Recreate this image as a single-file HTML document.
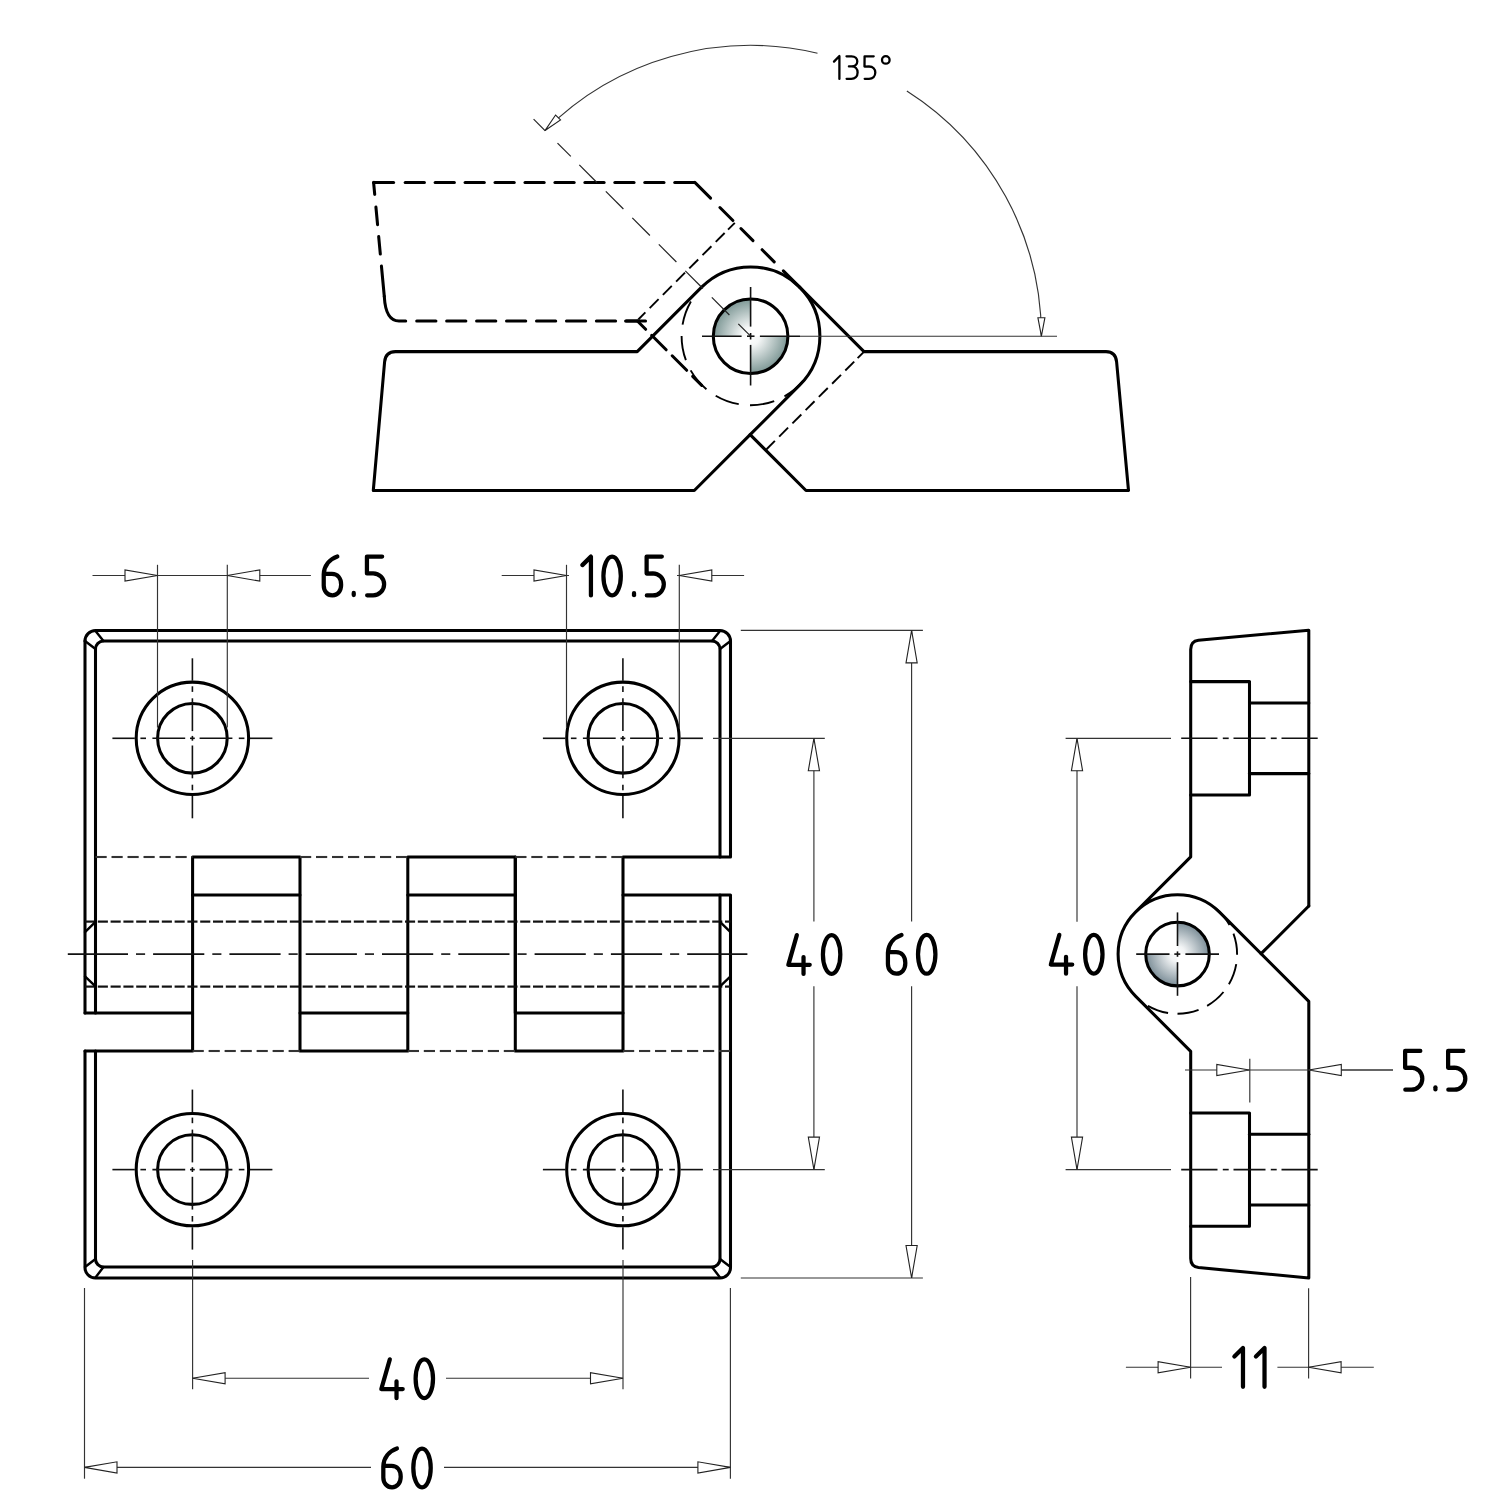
<!DOCTYPE html>
<html><head><meta charset="utf-8"><title>Hinge drawing</title>
<style>
html,body{margin:0;padding:0;background:#fff;width:1500px;height:1500px;overflow:hidden;font-family:"Liberation Sans",sans-serif}
svg{display:block}
.k{fill:none;stroke:#000;stroke-width:3.05;stroke-linecap:round;stroke-linejoin:round}
.k2{fill:none;stroke:#000;stroke-width:2.4;stroke-linecap:round}
.kd{fill:none;stroke:#000;stroke-width:3.05;stroke-linecap:round}
.md{fill:none;stroke:#000;stroke-width:1.9;stroke-linecap:butt}
.h{fill:none;stroke:#333;stroke-width:2.1}
.h2{fill:none;stroke:#111;stroke-width:2.2}
.c{fill:none;stroke:#111;stroke-width:1.6}
.c1{fill:none;stroke:#222;stroke-width:1.2}
.t{fill:none;stroke:#333;stroke-width:1.15}
.ar{fill:#fff;stroke:#222;stroke-width:1.1;stroke-linejoin:miter}
.tx{fill:none;stroke:#000;stroke-width:4.25;stroke-linecap:round;stroke-linejoin:round}
.ts path,.ts circle{fill:none;stroke:#000;stroke-width:2.3;stroke-linecap:round;stroke-linejoin:round}
</style></head>
<body>
<svg width="1500" height="1500" viewBox="0 0 1500 1500">
<defs>
<radialGradient id="g1" cx="750.6" cy="336.2" r="37.3" gradientUnits="userSpaceOnUse">
<stop offset="0" stop-color="#ffffff"/><stop offset="0.25" stop-color="#f4f6f6"/><stop offset="1" stop-color="#7d9795"/>
</radialGradient>
<radialGradient id="g2" cx="1177.5" cy="954.1" r="31.8" gradientUnits="userSpaceOnUse">
<stop offset="0" stop-color="#ffffff"/><stop offset="0.25" stop-color="#f2f4f5"/><stop offset="1" stop-color="#7b8d97"/>
</radialGradient>
</defs>
<rect width="1500" height="1500" fill="#fff"/>
<path d="M373.3,490.5 L384.6,361.8 Q385.6,351.6 395.5,351.6 L637.2,351.6 L701.6,287.2 A69.3,69.3 0 0 1 799.6,287.2 L864,351.6 L1106,351.6 Q1115.6,351.6 1116.6,361.8 L1128.5,490.5 L806,490.5 L750.15,434.65 L694.3,490.5 Z" class="k"/>
<path d="M799.6,287.2 A69.3,69.3 0 0 1 799.6,385.2 L750.15,434.65" class="k"/>
<line x1="373.6" y1="182.4" x2="393.6" y2="182.4" class="kd"/>
<line x1="405.2" y1="182.4" x2="424.4" y2="182.4" class="kd"/>
<line x1="435.15" y1="182.4" x2="454.35" y2="182.4" class="kd"/>
<line x1="465.1" y1="182.4" x2="484.3" y2="182.4" class="kd"/>
<line x1="495.05" y1="182.4" x2="514.25" y2="182.4" class="kd"/>
<line x1="525" y1="182.4" x2="544.2" y2="182.4" class="kd"/>
<line x1="554.95" y1="182.4" x2="574.15" y2="182.4" class="kd"/>
<line x1="584.9" y1="182.4" x2="604.1" y2="182.4" class="kd"/>
<line x1="614.85" y1="182.4" x2="634.05" y2="182.4" class="kd"/>
<line x1="644.8" y1="182.4" x2="664" y2="182.4" class="kd"/>
<line x1="674.75" y1="182.4" x2="693.95" y2="182.4" class="kd"/>
<line x1="694.8" y1="182.4" x2="710.57" y2="198.17" class="kd"/>
<line x1="719.91" y1="207.5" x2="732.92" y2="220.51" class="kd"/>
<line x1="740.91" y1="228.5" x2="753" y2="240.59" class="kd"/>
<line x1="762.12" y1="249.72" x2="774.21" y2="261.81" class="kd"/>
<line x1="783.33" y1="270.93" x2="799.6" y2="287.2" class="kd"/>
<line x1="373.6" y1="182.4" x2="374.72" y2="194.35" class="kd"/>
<line x1="375.92" y1="207.09" x2="377.56" y2="224.61" class="kd"/>
<line x1="378.68" y1="236.56" x2="380.32" y2="254.09" class="kd"/>
<line x1="381.44" y1="266.03" x2="384.3" y2="296.5" class="kd"/>
<path d="M384.3,296.5 Q385.6,321 399,321 L405.7,321" class="k"/>
<line x1="416.7" y1="321" x2="435.9" y2="321" class="kd"/>
<line x1="446.65" y1="321" x2="465.85" y2="321" class="kd"/>
<line x1="476.6" y1="321" x2="495.8" y2="321" class="kd"/>
<line x1="506.55" y1="321" x2="525.75" y2="321" class="kd"/>
<line x1="536.5" y1="321" x2="555.7" y2="321" class="kd"/>
<line x1="566.45" y1="321" x2="585.65" y2="321" class="kd"/>
<line x1="596.4" y1="321" x2="615.6" y2="321" class="kd"/>
<line x1="626.35" y1="321" x2="645.55" y2="321" class="kd"/>
<line x1="625.6" y1="321" x2="637.4" y2="321" class="kd"/>
<line x1="637.4" y1="321" x2="645.67" y2="329.27" class="kd"/>
<line x1="651.68" y1="335.28" x2="666.17" y2="349.78" class="kd"/>
<line x1="672.18" y1="355.79" x2="686.68" y2="370.29" class="kd"/>
<line x1="692.69" y1="376.3" x2="701.74" y2="385.35" class="kd"/>
<path d="M690.9,301.6 A69,69 0 0 0 682.57,324.69" class="md"/>
<path d="M681.6,335.96 A69,69 0 0 0 685.89,360.14" class="md"/>
<path d="M690.66,370.39 A69,69 0 0 0 706.43,389.21" class="md"/>
<path d="M715.68,395.71 A69,69 0 0 0 738.74,404.17" class="md"/>
<path d="M750,405.2 A69,69 0 0 0 774.2,401.04" class="md"/>
<path d="M784.47,396.31 A69,69 0 0 0 803.38,380.64" class="md"/>
<line x1="734.8" y1="222.8" x2="728.02" y2="229.6" class="md"/>
<line x1="724.63" y1="232.99" x2="715.73" y2="241.91" class="md"/>
<line x1="711.42" y1="246.23" x2="702.52" y2="255.15" class="md"/>
<line x1="698.21" y1="259.47" x2="689.31" y2="268.38" class="md"/>
<line x1="685" y1="272.7" x2="676.1" y2="281.62" class="md"/>
<line x1="671.79" y1="285.94" x2="662.89" y2="294.86" class="md"/>
<line x1="658.58" y1="299.18" x2="649.68" y2="308.09" class="md"/>
<line x1="645.37" y1="312.41" x2="638.31" y2="319.49" class="md"/>
<line x1="864.4" y1="351.4" x2="857.61" y2="358.19" class="md"/>
<line x1="854.22" y1="361.58" x2="845.31" y2="370.49" class="md"/>
<line x1="840.99" y1="374.81" x2="832.09" y2="383.71" class="md"/>
<line x1="827.77" y1="388.03" x2="818.86" y2="396.94" class="md"/>
<line x1="814.55" y1="401.25" x2="805.64" y2="410.16" class="md"/>
<line x1="801.33" y1="414.47" x2="792.42" y2="423.38" class="md"/>
<line x1="788.1" y1="427.7" x2="779.19" y2="436.61" class="md"/>
<line x1="774.88" y1="440.92" x2="766.54" y2="449.26" class="md"/>
<path d="M750.6,336.2 L713.3,336.2 A37.3,37.3 0 0 1 750.6,298.9 Z" fill="url(#g1)" stroke="none"/>
<path d="M750.6,336.2 L787.9,336.2 A37.3,37.3 0 0 1 750.6,373.5 Z" fill="url(#g1)" stroke="none"/>
<circle cx="750.6" cy="336.2" r="37.3" class="k"/>
<line x1="702" y1="336.2" x2="741.6" y2="336.2" class="c"/>
<line x1="747" y1="336.2" x2="754.5" y2="336.2" class="c"/>
<line x1="759.9" y1="336.2" x2="800" y2="336.2" class="c"/>
<line x1="750.6" y1="287" x2="750.6" y2="326.6" class="c"/>
<line x1="750.6" y1="333" x2="750.6" y2="339.5" class="c"/>
<line x1="750.6" y1="344.9" x2="750.6" y2="385.5" class="c"/>
<line x1="800" y1="336.2" x2="1057" y2="336.2" class="t"/>
<line x1="533.6" y1="119.2" x2="545.3" y2="130.9" class="c1"/>
<line x1="557.5" y1="143.1" x2="570.8" y2="156.4" class="c1"/>
<line x1="579.3" y1="164.9" x2="596.9" y2="182.5" class="c1"/>
<line x1="605.8" y1="191.4" x2="623.4" y2="209" class="c1"/>
<line x1="632.3" y1="217.9" x2="649.9" y2="235.5" class="c1"/>
<line x1="658.8" y1="244.4" x2="676.4" y2="262" class="c1"/>
<line x1="685.3" y1="270.9" x2="702.9" y2="288.5" class="c1"/>
<line x1="711.8" y1="297.4" x2="729.4" y2="315" class="c1"/>
<line x1="738.3" y1="323.9" x2="750.6" y2="336.2" class="c1"/>
<path d="M544.97,130.57 A290.8,290.8 0 0 1 817.5,53.2" class="t"/>
<path d="M906.85,90.94 A290.8,290.8 0 0 1 1041.4,336.2" class="t"/>
<polygon points="544.97,130.57 555.58,115.02 560.53,119.97" class="ar"/>
<polygon points="1041.4,336.2 1037.9,317.7 1044.9,317.7" class="ar"/>
<g class="ts">
<path d="M834,61.6 L839.4,56 L839.4,78.9"/>
<path d="M846.5,56.3 L851.6,56.3 C855.2,56.3 857.3,58.6 857.3,61.3 C857.3,64.2 855.2,66.4 851.6,66.4 L848.9,66.4 M851.6,66.4 C855.2,66.4 857.6,68.8 857.6,72.6 C857.6,76.5 855,78.8 851.3,78.8 L846.6,78.8"/>
<path d="M873.7,56.3 L864.6,56.3 L864.5,66.6 L869,66.5 C873,66.5 875.3,69.2 875.3,72.6 C875.3,76.3 872.8,78.8 869,78.8 L864.7,78.8"/>
<circle cx="885.8" cy="59.9" r="3.8"/>
</g>
<path d="M85,641 A10.5,10.5 0 0 1 95.5,630.5 L720,630.5 A10.5,10.5 0 0 1 730.5,641 L730.5,857 L623,857 L623,1051 L515.3,1051 L515.3,857 " class="k"/>
<path d="M85,1013 L85,641" class="k"/>
<path d="M95.5,1013 L95.5,649 A8,8 0 0 1 103.5,641 L712,641 A8,8 0 0 1 720,649 L720,857" class="k"/>
<line x1="95.5" y1="631" x2="103.5" y2="641" class="k2"/>
<line x1="85" y1="641" x2="95.5" y2="649" class="k2"/>
<line x1="720" y1="631" x2="712" y2="641" class="k2"/>
<line x1="730.5" y1="641" x2="720" y2="649" class="k2"/>
<path d="M85,1051 L85,1267 A10.5,10.5 0 0 0 95.5,1278 L720,1278 A10.5,10.5 0 0 0 730.5,1267 L730.5,895 L623,895" class="k"/>
<path d="M95.5,1051 L95.5,1259 A8,8 0 0 0 103.5,1267 L712,1267 A8,8 0 0 0 720,1259 L720,895" class="k"/>
<line x1="85" y1="1267" x2="95.5" y2="1259" class="k2"/>
<line x1="95.5" y1="1277.5" x2="103.5" y2="1267" class="k2"/>
<line x1="730.5" y1="1267" x2="720" y2="1259" class="k2"/>
<line x1="720" y1="1277.5" x2="712" y2="1267" class="k2"/>
<path d="M85,1013 L192.6,1013 L192.6,857 L300,857 L300,1013 L407.8,1013 L407.8,857 L515.3,857 L515.3,1013 L623,1013" class="k"/>
<path d="M85,1051 L192.6,1051 L192.6,1013" class="k"/>
<path d="M300,1013 L300,1051 L407.8,1051 L407.8,1013" class="k"/>
<line x1="192.6" y1="895" x2="300" y2="895" class="k"/>
<line x1="407.8" y1="895" x2="515.3" y2="895" class="k"/>
<line x1="95.5" y1="857" x2="106.7" y2="857" class="h"/>
<line x1="111.5" y1="857" x2="122.7" y2="857" class="h"/>
<line x1="127.5" y1="857" x2="138.7" y2="857" class="h"/>
<line x1="143.5" y1="857" x2="154.7" y2="857" class="h"/>
<line x1="159.5" y1="857" x2="170.7" y2="857" class="h"/>
<line x1="175.5" y1="857" x2="186.7" y2="857" class="h"/>
<line x1="191.5" y1="857" x2="192.6" y2="857" class="h"/>
<line x1="300" y1="857" x2="311.2" y2="857" class="h"/>
<line x1="316" y1="857" x2="327.2" y2="857" class="h"/>
<line x1="332" y1="857" x2="343.2" y2="857" class="h"/>
<line x1="348" y1="857" x2="359.2" y2="857" class="h"/>
<line x1="364" y1="857" x2="375.2" y2="857" class="h"/>
<line x1="380" y1="857" x2="391.2" y2="857" class="h"/>
<line x1="396" y1="857" x2="407.2" y2="857" class="h"/>
<line x1="515.3" y1="857" x2="526.5" y2="857" class="h"/>
<line x1="531.3" y1="857" x2="542.5" y2="857" class="h"/>
<line x1="547.3" y1="857" x2="558.5" y2="857" class="h"/>
<line x1="563.3" y1="857" x2="574.5" y2="857" class="h"/>
<line x1="579.3" y1="857" x2="590.5" y2="857" class="h"/>
<line x1="595.3" y1="857" x2="606.5" y2="857" class="h"/>
<line x1="611.3" y1="857" x2="622.5" y2="857" class="h"/>
<line x1="192.6" y1="1051" x2="203.8" y2="1051" class="h"/>
<line x1="208.6" y1="1051" x2="219.8" y2="1051" class="h"/>
<line x1="224.6" y1="1051" x2="235.8" y2="1051" class="h"/>
<line x1="240.6" y1="1051" x2="251.8" y2="1051" class="h"/>
<line x1="256.6" y1="1051" x2="267.8" y2="1051" class="h"/>
<line x1="272.6" y1="1051" x2="283.8" y2="1051" class="h"/>
<line x1="288.6" y1="1051" x2="299.8" y2="1051" class="h"/>
<line x1="407.8" y1="1051" x2="419" y2="1051" class="h"/>
<line x1="423.8" y1="1051" x2="435" y2="1051" class="h"/>
<line x1="439.8" y1="1051" x2="451" y2="1051" class="h"/>
<line x1="455.8" y1="1051" x2="467" y2="1051" class="h"/>
<line x1="471.8" y1="1051" x2="483" y2="1051" class="h"/>
<line x1="487.8" y1="1051" x2="499" y2="1051" class="h"/>
<line x1="503.8" y1="1051" x2="515" y2="1051" class="h"/>
<line x1="623" y1="1051" x2="634.2" y2="1051" class="h"/>
<line x1="639" y1="1051" x2="650.2" y2="1051" class="h"/>
<line x1="655" y1="1051" x2="666.2" y2="1051" class="h"/>
<line x1="671" y1="1051" x2="682.2" y2="1051" class="h"/>
<line x1="687" y1="1051" x2="698.2" y2="1051" class="h"/>
<line x1="703" y1="1051" x2="714.2" y2="1051" class="h"/>
<line x1="719" y1="1051" x2="730.2" y2="1051" class="h"/>
<line x1="85" y1="921.6" x2="95.1" y2="921.6" class="h2"/>
<line x1="97.8" y1="921.6" x2="107.9" y2="921.6" class="h2"/>
<line x1="110.6" y1="921.6" x2="120.7" y2="921.6" class="h2"/>
<line x1="123.4" y1="921.6" x2="133.5" y2="921.6" class="h2"/>
<line x1="136.2" y1="921.6" x2="146.3" y2="921.6" class="h2"/>
<line x1="149" y1="921.6" x2="159.1" y2="921.6" class="h2"/>
<line x1="161.8" y1="921.6" x2="171.9" y2="921.6" class="h2"/>
<line x1="174.6" y1="921.6" x2="184.7" y2="921.6" class="h2"/>
<line x1="187.4" y1="921.6" x2="197.5" y2="921.6" class="h2"/>
<line x1="200.2" y1="921.6" x2="210.3" y2="921.6" class="h2"/>
<line x1="213" y1="921.6" x2="223.1" y2="921.6" class="h2"/>
<line x1="225.8" y1="921.6" x2="235.9" y2="921.6" class="h2"/>
<line x1="238.6" y1="921.6" x2="248.7" y2="921.6" class="h2"/>
<line x1="251.4" y1="921.6" x2="261.5" y2="921.6" class="h2"/>
<line x1="264.2" y1="921.6" x2="274.3" y2="921.6" class="h2"/>
<line x1="277" y1="921.6" x2="287.1" y2="921.6" class="h2"/>
<line x1="289.8" y1="921.6" x2="299.9" y2="921.6" class="h2"/>
<line x1="302.6" y1="921.6" x2="312.7" y2="921.6" class="h2"/>
<line x1="315.4" y1="921.6" x2="325.5" y2="921.6" class="h2"/>
<line x1="328.2" y1="921.6" x2="338.3" y2="921.6" class="h2"/>
<line x1="341" y1="921.6" x2="351.1" y2="921.6" class="h2"/>
<line x1="353.8" y1="921.6" x2="363.9" y2="921.6" class="h2"/>
<line x1="366.6" y1="921.6" x2="376.7" y2="921.6" class="h2"/>
<line x1="379.4" y1="921.6" x2="389.5" y2="921.6" class="h2"/>
<line x1="392.2" y1="921.6" x2="402.3" y2="921.6" class="h2"/>
<line x1="405" y1="921.6" x2="415.1" y2="921.6" class="h2"/>
<line x1="417.8" y1="921.6" x2="427.9" y2="921.6" class="h2"/>
<line x1="430.6" y1="921.6" x2="440.7" y2="921.6" class="h2"/>
<line x1="443.4" y1="921.6" x2="453.5" y2="921.6" class="h2"/>
<line x1="456.2" y1="921.6" x2="466.3" y2="921.6" class="h2"/>
<line x1="469" y1="921.6" x2="479.1" y2="921.6" class="h2"/>
<line x1="481.8" y1="921.6" x2="491.9" y2="921.6" class="h2"/>
<line x1="494.6" y1="921.6" x2="504.7" y2="921.6" class="h2"/>
<line x1="507.4" y1="921.6" x2="517.5" y2="921.6" class="h2"/>
<line x1="520.2" y1="921.6" x2="530.3" y2="921.6" class="h2"/>
<line x1="533" y1="921.6" x2="543.1" y2="921.6" class="h2"/>
<line x1="545.8" y1="921.6" x2="555.9" y2="921.6" class="h2"/>
<line x1="558.6" y1="921.6" x2="568.7" y2="921.6" class="h2"/>
<line x1="571.4" y1="921.6" x2="581.5" y2="921.6" class="h2"/>
<line x1="584.2" y1="921.6" x2="594.3" y2="921.6" class="h2"/>
<line x1="597" y1="921.6" x2="607.1" y2="921.6" class="h2"/>
<line x1="609.8" y1="921.6" x2="619.9" y2="921.6" class="h2"/>
<line x1="622.6" y1="921.6" x2="632.7" y2="921.6" class="h2"/>
<line x1="635.4" y1="921.6" x2="645.5" y2="921.6" class="h2"/>
<line x1="648.2" y1="921.6" x2="658.3" y2="921.6" class="h2"/>
<line x1="661" y1="921.6" x2="671.1" y2="921.6" class="h2"/>
<line x1="673.8" y1="921.6" x2="683.9" y2="921.6" class="h2"/>
<line x1="686.6" y1="921.6" x2="696.7" y2="921.6" class="h2"/>
<line x1="699.4" y1="921.6" x2="709.5" y2="921.6" class="h2"/>
<line x1="712.2" y1="921.6" x2="722.3" y2="921.6" class="h2"/>
<line x1="725" y1="921.6" x2="730.5" y2="921.6" class="h2"/>
<line x1="85" y1="986.6" x2="95.1" y2="986.6" class="h2"/>
<line x1="97.8" y1="986.6" x2="107.9" y2="986.6" class="h2"/>
<line x1="110.6" y1="986.6" x2="120.7" y2="986.6" class="h2"/>
<line x1="123.4" y1="986.6" x2="133.5" y2="986.6" class="h2"/>
<line x1="136.2" y1="986.6" x2="146.3" y2="986.6" class="h2"/>
<line x1="149" y1="986.6" x2="159.1" y2="986.6" class="h2"/>
<line x1="161.8" y1="986.6" x2="171.9" y2="986.6" class="h2"/>
<line x1="174.6" y1="986.6" x2="184.7" y2="986.6" class="h2"/>
<line x1="187.4" y1="986.6" x2="197.5" y2="986.6" class="h2"/>
<line x1="200.2" y1="986.6" x2="210.3" y2="986.6" class="h2"/>
<line x1="213" y1="986.6" x2="223.1" y2="986.6" class="h2"/>
<line x1="225.8" y1="986.6" x2="235.9" y2="986.6" class="h2"/>
<line x1="238.6" y1="986.6" x2="248.7" y2="986.6" class="h2"/>
<line x1="251.4" y1="986.6" x2="261.5" y2="986.6" class="h2"/>
<line x1="264.2" y1="986.6" x2="274.3" y2="986.6" class="h2"/>
<line x1="277" y1="986.6" x2="287.1" y2="986.6" class="h2"/>
<line x1="289.8" y1="986.6" x2="299.9" y2="986.6" class="h2"/>
<line x1="302.6" y1="986.6" x2="312.7" y2="986.6" class="h2"/>
<line x1="315.4" y1="986.6" x2="325.5" y2="986.6" class="h2"/>
<line x1="328.2" y1="986.6" x2="338.3" y2="986.6" class="h2"/>
<line x1="341" y1="986.6" x2="351.1" y2="986.6" class="h2"/>
<line x1="353.8" y1="986.6" x2="363.9" y2="986.6" class="h2"/>
<line x1="366.6" y1="986.6" x2="376.7" y2="986.6" class="h2"/>
<line x1="379.4" y1="986.6" x2="389.5" y2="986.6" class="h2"/>
<line x1="392.2" y1="986.6" x2="402.3" y2="986.6" class="h2"/>
<line x1="405" y1="986.6" x2="415.1" y2="986.6" class="h2"/>
<line x1="417.8" y1="986.6" x2="427.9" y2="986.6" class="h2"/>
<line x1="430.6" y1="986.6" x2="440.7" y2="986.6" class="h2"/>
<line x1="443.4" y1="986.6" x2="453.5" y2="986.6" class="h2"/>
<line x1="456.2" y1="986.6" x2="466.3" y2="986.6" class="h2"/>
<line x1="469" y1="986.6" x2="479.1" y2="986.6" class="h2"/>
<line x1="481.8" y1="986.6" x2="491.9" y2="986.6" class="h2"/>
<line x1="494.6" y1="986.6" x2="504.7" y2="986.6" class="h2"/>
<line x1="507.4" y1="986.6" x2="517.5" y2="986.6" class="h2"/>
<line x1="520.2" y1="986.6" x2="530.3" y2="986.6" class="h2"/>
<line x1="533" y1="986.6" x2="543.1" y2="986.6" class="h2"/>
<line x1="545.8" y1="986.6" x2="555.9" y2="986.6" class="h2"/>
<line x1="558.6" y1="986.6" x2="568.7" y2="986.6" class="h2"/>
<line x1="571.4" y1="986.6" x2="581.5" y2="986.6" class="h2"/>
<line x1="584.2" y1="986.6" x2="594.3" y2="986.6" class="h2"/>
<line x1="597" y1="986.6" x2="607.1" y2="986.6" class="h2"/>
<line x1="609.8" y1="986.6" x2="619.9" y2="986.6" class="h2"/>
<line x1="622.6" y1="986.6" x2="632.7" y2="986.6" class="h2"/>
<line x1="635.4" y1="986.6" x2="645.5" y2="986.6" class="h2"/>
<line x1="648.2" y1="986.6" x2="658.3" y2="986.6" class="h2"/>
<line x1="661" y1="986.6" x2="671.1" y2="986.6" class="h2"/>
<line x1="673.8" y1="986.6" x2="683.9" y2="986.6" class="h2"/>
<line x1="686.6" y1="986.6" x2="696.7" y2="986.6" class="h2"/>
<line x1="699.4" y1="986.6" x2="709.5" y2="986.6" class="h2"/>
<line x1="712.2" y1="986.6" x2="722.3" y2="986.6" class="h2"/>
<line x1="725" y1="986.6" x2="730.5" y2="986.6" class="h2"/>
<line x1="85" y1="932.2" x2="95.2" y2="922.2" class="k2"/>
<line x1="85" y1="976.4" x2="95.2" y2="986.2" class="k2"/>
<line x1="730.5" y1="932.2" x2="720.3" y2="922.2" class="k2"/>
<line x1="730.5" y1="976.4" x2="720.3" y2="986.2" class="k2"/>
<line x1="67.8" y1="954.1" x2="128" y2="954.1" class="c"/>
<line x1="136" y1="954.1" x2="145.1" y2="954.1" class="c"/>
<line x1="153.1" y1="954.1" x2="204.3" y2="954.1" class="c"/>
<line x1="212.3" y1="954.1" x2="221.4" y2="954.1" class="c"/>
<line x1="229.4" y1="954.1" x2="280.6" y2="954.1" class="c"/>
<line x1="288.6" y1="954.1" x2="297.7" y2="954.1" class="c"/>
<line x1="305.7" y1="954.1" x2="356.9" y2="954.1" class="c"/>
<line x1="364.9" y1="954.1" x2="374" y2="954.1" class="c"/>
<line x1="382" y1="954.1" x2="433.2" y2="954.1" class="c"/>
<line x1="441.2" y1="954.1" x2="450.3" y2="954.1" class="c"/>
<line x1="458.3" y1="954.1" x2="509.5" y2="954.1" class="c"/>
<line x1="517.5" y1="954.1" x2="526.6" y2="954.1" class="c"/>
<line x1="534.6" y1="954.1" x2="585.8" y2="954.1" class="c"/>
<line x1="593.8" y1="954.1" x2="602.9" y2="954.1" class="c"/>
<line x1="610.9" y1="954.1" x2="662.1" y2="954.1" class="c"/>
<line x1="670.1" y1="954.1" x2="679.2" y2="954.1" class="c"/>
<line x1="687.2" y1="954.1" x2="747.4" y2="954.1" class="c"/>
<circle cx="192.4" cy="738.3" r="56.2" class="k"/>
<circle cx="192.4" cy="738.3" r="34.8" class="k"/>
<line x1="112.4" y1="738.3" x2="134.8" y2="738.3" class="c"/>
<line x1="192.4" y1="658.3" x2="192.4" y2="680.7" class="c"/>
<line x1="140.4" y1="738.3" x2="146" y2="738.3" class="c"/>
<line x1="192.4" y1="686.3" x2="192.4" y2="691.9" class="c"/>
<line x1="152.4" y1="738.3" x2="185.2" y2="738.3" class="c"/>
<line x1="192.4" y1="698.3" x2="192.4" y2="731.1" class="c"/>
<line x1="190" y1="738.3" x2="194.8" y2="738.3" class="c"/>
<line x1="192.4" y1="735.9" x2="192.4" y2="740.7" class="c"/>
<line x1="199.6" y1="738.3" x2="232.4" y2="738.3" class="c"/>
<line x1="192.4" y1="745.5" x2="192.4" y2="778.3" class="c"/>
<line x1="238.8" y1="738.3" x2="244.4" y2="738.3" class="c"/>
<line x1="192.4" y1="784.7" x2="192.4" y2="790.3" class="c"/>
<line x1="250" y1="738.3" x2="272.4" y2="738.3" class="c"/>
<line x1="192.4" y1="795.9" x2="192.4" y2="818.3" class="c"/>
<circle cx="192.4" cy="1169.6" r="56.2" class="k"/>
<circle cx="192.4" cy="1169.6" r="34.8" class="k"/>
<line x1="112.4" y1="1169.6" x2="134.8" y2="1169.6" class="c"/>
<line x1="192.4" y1="1089.6" x2="192.4" y2="1112" class="c"/>
<line x1="140.4" y1="1169.6" x2="146" y2="1169.6" class="c"/>
<line x1="192.4" y1="1117.6" x2="192.4" y2="1123.2" class="c"/>
<line x1="152.4" y1="1169.6" x2="185.2" y2="1169.6" class="c"/>
<line x1="192.4" y1="1129.6" x2="192.4" y2="1162.4" class="c"/>
<line x1="190" y1="1169.6" x2="194.8" y2="1169.6" class="c"/>
<line x1="192.4" y1="1167.2" x2="192.4" y2="1172" class="c"/>
<line x1="199.6" y1="1169.6" x2="232.4" y2="1169.6" class="c"/>
<line x1="192.4" y1="1176.8" x2="192.4" y2="1209.6" class="c"/>
<line x1="238.8" y1="1169.6" x2="244.4" y2="1169.6" class="c"/>
<line x1="192.4" y1="1216" x2="192.4" y2="1221.6" class="c"/>
<line x1="250" y1="1169.6" x2="272.4" y2="1169.6" class="c"/>
<line x1="192.4" y1="1227.2" x2="192.4" y2="1249.6" class="c"/>
<circle cx="622.9" cy="738.3" r="56.2" class="k"/>
<circle cx="622.9" cy="738.3" r="34.8" class="k"/>
<line x1="542.9" y1="738.3" x2="565.3" y2="738.3" class="c"/>
<line x1="622.9" y1="658.3" x2="622.9" y2="680.7" class="c"/>
<line x1="570.9" y1="738.3" x2="576.5" y2="738.3" class="c"/>
<line x1="622.9" y1="686.3" x2="622.9" y2="691.9" class="c"/>
<line x1="582.9" y1="738.3" x2="615.7" y2="738.3" class="c"/>
<line x1="622.9" y1="698.3" x2="622.9" y2="731.1" class="c"/>
<line x1="620.5" y1="738.3" x2="625.3" y2="738.3" class="c"/>
<line x1="622.9" y1="735.9" x2="622.9" y2="740.7" class="c"/>
<line x1="630.1" y1="738.3" x2="662.9" y2="738.3" class="c"/>
<line x1="622.9" y1="745.5" x2="622.9" y2="778.3" class="c"/>
<line x1="669.3" y1="738.3" x2="674.9" y2="738.3" class="c"/>
<line x1="622.9" y1="784.7" x2="622.9" y2="790.3" class="c"/>
<line x1="680.5" y1="738.3" x2="702.9" y2="738.3" class="c"/>
<line x1="622.9" y1="795.9" x2="622.9" y2="818.3" class="c"/>
<circle cx="622.9" cy="1169.6" r="56.2" class="k"/>
<circle cx="622.9" cy="1169.6" r="34.8" class="k"/>
<line x1="542.9" y1="1169.6" x2="565.3" y2="1169.6" class="c"/>
<line x1="622.9" y1="1089.6" x2="622.9" y2="1112" class="c"/>
<line x1="570.9" y1="1169.6" x2="576.5" y2="1169.6" class="c"/>
<line x1="622.9" y1="1117.6" x2="622.9" y2="1123.2" class="c"/>
<line x1="582.9" y1="1169.6" x2="615.7" y2="1169.6" class="c"/>
<line x1="622.9" y1="1129.6" x2="622.9" y2="1162.4" class="c"/>
<line x1="620.5" y1="1169.6" x2="625.3" y2="1169.6" class="c"/>
<line x1="622.9" y1="1167.2" x2="622.9" y2="1172" class="c"/>
<line x1="630.1" y1="1169.6" x2="662.9" y2="1169.6" class="c"/>
<line x1="622.9" y1="1176.8" x2="622.9" y2="1209.6" class="c"/>
<line x1="669.3" y1="1169.6" x2="674.9" y2="1169.6" class="c"/>
<line x1="622.9" y1="1216" x2="622.9" y2="1221.6" class="c"/>
<line x1="680.5" y1="1169.6" x2="702.9" y2="1169.6" class="c"/>
<line x1="622.9" y1="1227.2" x2="622.9" y2="1249.6" class="c"/>
<line x1="157.5" y1="564.8" x2="157.5" y2="727.6" class="t"/>
<line x1="227.3" y1="564.8" x2="227.3" y2="727.6" class="t"/>
<line x1="92.5" y1="575.5" x2="310.9" y2="575.5" class="t"/>
<polygon points="157.5,575.5 125,581.1 125,569.9" class="ar"/>
<polygon points="227.3,575.5 259.8,569.9 259.8,581.1" class="ar"/>
<path transform="translate(323.73,556.52) scale(1)" d="M13.6,0 C6,2.6 0.3,9 0,17.8 L0,29 C0,34.6 3.7,38.8 8.7,38.8 C13.7,38.8 17.4,34.6 17.4,28.2 C17.4,21.6 13.8,17.3 8.2,17.3 L0,17.3" class="tx"/>
<path transform="translate(353.73,556.52) scale(1)" d="M0,36.4 L0,38.6" class="tx"/>
<path transform="translate(366.93,556.52) scale(1)" d="M15.2,0 L0,0 L0,16.9 L6.2,16.75 C12.3,16.75 17.2,21.7 17.2,27.75 C17.2,33.8 12.3,38.8 6.2,38.8 L0.2,38.8" class="tx"/>
<line x1="566.5" y1="564.8" x2="566.5" y2="728" class="t"/>
<line x1="679.3" y1="564.8" x2="679.3" y2="728" class="t"/>
<line x1="501.7" y1="575.5" x2="569" y2="575.5" class="t"/>
<line x1="677" y1="575.5" x2="744.1" y2="575.5" class="t"/>
<polygon points="566.5,575.5 534,581.1 534,569.9" class="ar"/>
<polygon points="679.3,575.5 711.8,569.9 711.8,581.1" class="ar"/>
<path transform="translate(582.33,556.62) scale(1)" d="M0,8.5 L8.6,0 L8.6,38.8" class="tx"/>
<path transform="translate(603.42,556.62) scale(1)" d="M8.7,0 A8.7,19.4 0 0 1 17.4,19.4 A8.7,19.4 0 0 1 8.7,38.8 A8.7,19.4 0 0 1 0,19.4 A8.7,19.4 0 0 1 8.7,0Z" class="tx"/>
<path transform="translate(634.02,556.62) scale(1)" d="M0,36.4 L0,38.6" class="tx"/>
<path transform="translate(646.62,556.62) scale(1)" d="M15.2,0 L0,0 L0,16.9 L6.2,16.75 C12.3,16.75 17.2,21.7 17.2,27.75 C17.2,33.8 12.3,38.8 6.2,38.8 L0.2,38.8" class="tx"/>
<line x1="713" y1="738.3" x2="824.8" y2="738.3" class="t"/>
<line x1="713" y1="1169.6" x2="824.8" y2="1169.6" class="t"/>
<line x1="813.9" y1="738.3" x2="813.9" y2="921.4" class="t"/>
<line x1="813.9" y1="986.2" x2="813.9" y2="1169.6" class="t"/>
<polygon points="813.9,738.3 819.5,770.8 808.3,770.8" class="ar"/>
<polygon points="813.9,1169.6 808.3,1137.1 819.5,1137.1" class="ar"/>
<path transform="translate(788.33,935.12) scale(1)" d="M8.5,0 L0,29.7 L21.4,29.7 M15.2,22 L15.2,38.8" class="tx"/>
<path transform="translate(822.92,935.12) scale(1)" d="M8.7,0 A8.7,19.4 0 0 1 17.4,19.4 A8.7,19.4 0 0 1 8.7,38.8 A8.7,19.4 0 0 1 0,19.4 A8.7,19.4 0 0 1 8.7,0Z" class="tx"/>
<line x1="740.8" y1="630.4" x2="922.9" y2="630.4" class="t"/>
<line x1="740.8" y1="1278" x2="922.9" y2="1278" class="t"/>
<line x1="911.6" y1="630.4" x2="911.6" y2="921.4" class="t"/>
<line x1="911.6" y1="986.2" x2="911.6" y2="1278" class="t"/>
<polygon points="911.6,630.4 917.2,662.9 906,662.9" class="ar"/>
<polygon points="911.6,1278 906,1245.5 917.2,1245.5" class="ar"/>
<path transform="translate(887.92,934.92) scale(1)" d="M13.6,0 C6,2.6 0.3,9 0,17.8 L0,29 C0,34.6 3.7,38.8 8.7,38.8 C13.7,38.8 17.4,34.6 17.4,28.2 C17.4,21.6 13.8,17.3 8.2,17.3 L0,17.3" class="tx"/>
<path transform="translate(918.02,934.92) scale(1)" d="M8.7,0 A8.7,19.4 0 0 1 17.4,19.4 A8.7,19.4 0 0 1 8.7,38.8 A8.7,19.4 0 0 1 0,19.4 A8.7,19.4 0 0 1 8.7,0Z" class="tx"/>
<line x1="192.6" y1="1260" x2="192.6" y2="1389.2" class="t"/>
<line x1="623" y1="1260" x2="623" y2="1389.2" class="t"/>
<line x1="192.6" y1="1378.2" x2="369" y2="1378.2" class="t"/>
<line x1="446" y1="1378.2" x2="623" y2="1378.2" class="t"/>
<polygon points="192.6,1378.2 225.1,1372.6 225.1,1383.8" class="ar"/>
<polygon points="623,1378.2 590.5,1383.8 590.5,1372.6" class="ar"/>
<path transform="translate(381.32,1359.33) scale(1)" d="M8.5,0 L0,29.7 L21.4,29.7 M15.2,22 L15.2,38.8" class="tx"/>
<path transform="translate(415.62,1359.33) scale(1)" d="M8.7,0 A8.7,19.4 0 0 1 17.4,19.4 A8.7,19.4 0 0 1 8.7,38.8 A8.7,19.4 0 0 1 0,19.4 A8.7,19.4 0 0 1 8.7,0Z" class="tx"/>
<line x1="84.5" y1="1288" x2="84.5" y2="1478.7" class="t"/>
<line x1="730.4" y1="1288" x2="730.4" y2="1478.7" class="t"/>
<line x1="84.5" y1="1467.4" x2="371" y2="1467.4" class="t"/>
<line x1="444" y1="1467.4" x2="730.4" y2="1467.4" class="t"/>
<polygon points="84.5,1467.4 117,1461.8 117,1473" class="ar"/>
<polygon points="730.4,1467.4 697.9,1473 697.9,1461.8" class="ar"/>
<path transform="translate(383.32,1448.53) scale(1)" d="M13.6,0 C6,2.6 0.3,9 0,17.8 L0,29 C0,34.6 3.7,38.8 8.7,38.8 C13.7,38.8 17.4,34.6 17.4,28.2 C17.4,21.6 13.8,17.3 8.2,17.3 L0,17.3" class="tx"/>
<path transform="translate(413.32,1448.53) scale(1)" d="M8.7,0 A8.7,19.4 0 0 1 17.4,19.4 A8.7,19.4 0 0 1 8.7,38.8 A8.7,19.4 0 0 1 0,19.4 A8.7,19.4 0 0 1 8.7,0Z" class="tx"/>
<path d="M1308.8,906 L1308.8,630.2 L1198.5,640.2 Q1190.7,641.2 1190.7,649.5 L1190.7,856.9 L1135.5,912.1 A59.4,59.4 0 0 1 1219.5,912.1 L1308.8,1001.4 L1308.8,1278 L1198.5,1267.6 Q1190.7,1266.6 1190.7,1258.6 L1190.7,1051.3 L1135.5,996.1 A59.4,59.4 0 0 1 1135.5,912.1" class="k"/>
<path d="M1308.8,906 L1261.1,953.7" class="k"/>
<path d="M1190.7,681.6 L1249.5,681.6 L1249.5,795 L1190.7,795" class="k"/>
<line x1="1249.5" y1="703" x2="1308.8" y2="703" class="k"/>
<line x1="1249.5" y1="773.6" x2="1308.8" y2="773.6" class="k"/>
<line x1="1181.2" y1="738.3" x2="1217.5" y2="738.3" class="c"/>
<line x1="1222.8" y1="738.3" x2="1228.7" y2="738.3" class="c"/>
<line x1="1233.5" y1="738.3" x2="1265.5" y2="738.3" class="c"/>
<line x1="1270.8" y1="738.3" x2="1276.7" y2="738.3" class="c"/>
<line x1="1281.5" y1="738.3" x2="1317.7" y2="738.3" class="c"/>
<line x1="1065.6" y1="738.3" x2="1171" y2="738.3" class="t"/>
<path d="M1190.7,1112.9 L1249.5,1112.9 L1249.5,1226.3 L1190.7,1226.3" class="k"/>
<line x1="1249.5" y1="1134.3" x2="1308.8" y2="1134.3" class="k"/>
<line x1="1249.5" y1="1204.9" x2="1308.8" y2="1204.9" class="k"/>
<line x1="1181.2" y1="1169.6" x2="1217.5" y2="1169.6" class="c"/>
<line x1="1222.8" y1="1169.6" x2="1228.7" y2="1169.6" class="c"/>
<line x1="1233.5" y1="1169.6" x2="1265.5" y2="1169.6" class="c"/>
<line x1="1270.8" y1="1169.6" x2="1276.7" y2="1169.6" class="c"/>
<line x1="1281.5" y1="1169.6" x2="1317.7" y2="1169.6" class="c"/>
<line x1="1065.6" y1="1169.6" x2="1171" y2="1169.6" class="t"/>
<path d="M1215.89,908.51 A59.6,59.6 0 0 1 1229.53,925.02" class="md"/>
<path d="M1233.47,933.62 A59.6,59.6 0 0 1 1237.1,954.72" class="md"/>
<path d="M1236.25,964.14 A59.6,59.6 0 0 1 1228.91,984.26" class="md"/>
<path d="M1223.49,992.01 A59.6,59.6 0 0 1 1207.12,1005.82" class="md"/>
<path d="M1198.57,1009.85 A59.6,59.6 0 0 1 1177.5,1013.7" class="md"/>
<path d="M1168.07,1012.95 A59.6,59.6 0 0 1 1147.88,1005.82" class="md"/>
<path d="M1177.5,954.1 L1177.5,922.3 A31.8,31.8 0 0 1 1209.3,954.1 Z" fill="url(#g2)" stroke="none"/>
<path d="M1177.5,954.1 L1177.5,985.9 A31.8,31.8 0 0 1 1145.7,954.1 Z" fill="url(#g2)" stroke="none"/>
<circle cx="1177.5" cy="954.1" r="31.8" class="k"/>
<line x1="1136.2" y1="954.1" x2="1169.5" y2="954.1" class="c"/>
<line x1="1174.3" y1="954.1" x2="1180.3" y2="954.1" class="c"/>
<line x1="1185.4" y1="954.1" x2="1219" y2="954.1" class="c"/>
<line x1="1177.5" y1="912.4" x2="1177.5" y2="946" class="c"/>
<line x1="1177.5" y1="951.4" x2="1177.5" y2="956.8" class="c"/>
<line x1="1177.5" y1="962.2" x2="1177.5" y2="995.8" class="c"/>
<line x1="1077" y1="738.3" x2="1077" y2="921.7" class="t"/>
<line x1="1077" y1="986.3" x2="1077" y2="1169.6" class="t"/>
<polygon points="1077,738.3 1082.6,770.8 1071.4,770.8" class="ar"/>
<polygon points="1077,1169.6 1071.4,1137.1 1082.6,1137.1" class="ar"/>
<path transform="translate(1050.83,934.83) scale(1)" d="M8.5,0 L0,29.7 L21.4,29.7 M15.2,22 L15.2,38.8" class="tx"/>
<path transform="translate(1085.12,934.83) scale(1)" d="M8.7,0 A8.7,19.4 0 0 1 17.4,19.4 A8.7,19.4 0 0 1 8.7,38.8 A8.7,19.4 0 0 1 0,19.4 A8.7,19.4 0 0 1 8.7,0Z" class="tx"/>
<line x1="1249.8" y1="1058.7" x2="1249.8" y2="1102.5" class="t"/>
<line x1="1185" y1="1070" x2="1393" y2="1070" class="t"/>
<line x1="1308.8" y1="1070" x2="1393" y2="1070" class="t"/>
<polygon points="1249.3,1070 1216.8,1075.6 1216.8,1064.4" class="ar"/>
<polygon points="1308.8,1070 1341.3,1064.4 1341.3,1075.6" class="ar"/>
<path transform="translate(1405.12,1050.88) scale(1)" d="M15.2,0 L0,0 L0,16.9 L6.2,16.75 C12.3,16.75 17.2,21.7 17.2,27.75 C17.2,33.8 12.3,38.8 6.2,38.8 L0.2,38.8" class="tx"/>
<path transform="translate(1435.42,1050.88) scale(1)" d="M0,36.4 L0,38.6" class="tx"/>
<path transform="translate(1448.12,1050.88) scale(1)" d="M15.2,0 L0,0 L0,16.9 L6.2,16.75 C12.3,16.75 17.2,21.7 17.2,27.75 C17.2,33.8 12.3,38.8 6.2,38.8 L0.2,38.8" class="tx"/>
<line x1="1190.6" y1="1277" x2="1190.6" y2="1378.4" class="t"/>
<line x1="1308.6" y1="1288.3" x2="1308.6" y2="1378.4" class="t"/>
<line x1="1125.9" y1="1367.2" x2="1222" y2="1367.2" class="t"/>
<line x1="1277.4" y1="1367.2" x2="1373.8" y2="1367.2" class="t"/>
<polygon points="1190.6,1367.2 1158.1,1372.8 1158.1,1361.6" class="ar"/>
<polygon points="1308.6,1367.2 1341.1,1361.6 1341.1,1372.8" class="ar"/>
<path transform="translate(1234.38,1348.03) scale(1)" d="M0,8.5 L8.6,0 L8.6,38.8" class="tx"/>
<path transform="translate(1255.92,1348.03) scale(1)" d="M0,8.5 L8.6,0 L8.6,38.8" class="tx"/>
</svg>
</body></html>
